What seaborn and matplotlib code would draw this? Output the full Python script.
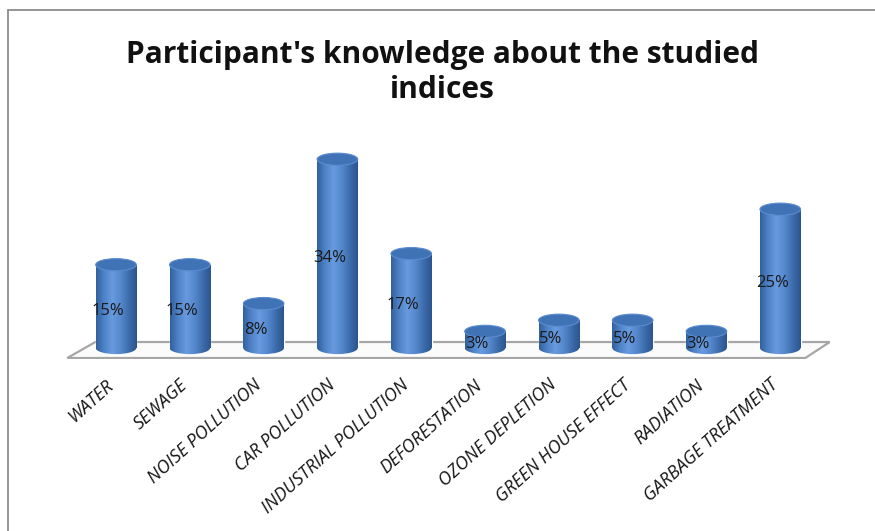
import numpy as np
import matplotlib
matplotlib.use("Agg")
import matplotlib.pyplot as plt
import matplotlib.transforms as mtransforms
import seaborn as sns
from matplotlib.patches import Ellipse, Polygon
from matplotlib.colors import LinearSegmentedColormap
from matplotlib.lines import Line2D

# chart data
categories = ["WATER", "SEWAGE", "NOISE POLLUTION", "CAR POLLUTION",
              "INDUSTRIAL POLLUTION", "DEFORESTATION", "OZONE DEPLETION",
              "GREEN HOUSE EFFECT", "RADIATION", "GARBAGE TREATMENT"]
values = [15, 15, 8, 34, 17, 3, 5, 5, 3, 25]
labels = ["15%", "15%", "8%", "34%", "17%", "3%", "5%", "5%", "3%", "25%"]

sns.set_style("white")
plt.rcParams['font.family'] = ['Open Sans', 'DejaVu Sans']

fig = plt.figure(figsize=(8.75, 5.31), dpi=100)
ax = fig.add_axes([0.0693, 0.3237, 0.8857, 0.3973])

sns.barplot(x=categories, y=values, color="#4a7ec2", width=0.55,
            saturation=1, ax=ax, zorder=3)

ax.set_xlim(-0.75, 9.75)
ax.set_ylim(-2, 36)

# floor of the 3d plot
floor = Polygon([(-0.66, -1.8), (-0.28, 1.08), (9.67, 1.08), (9.34, -1.8)],
                closed=True, facecolor="#fbfbfb", edgecolor="#a6a6a6",
                lw=1.6, zorder=1)
ax.add_patch(floor)

# cylinder shading
cyl = LinearSegmentedColormap.from_list(
    "cyl", ["#30609c", "#4f83c8", "#679ade", "#5588cd", "#3d6dad", "#2b548d"])
grad = np.linspace(0, 1, 256).reshape(1, -1)
ell_h = 2.2

for bar, lab in zip(ax.patches[:len(values)], labels):
    x0 = bar.get_x()
    w = bar.get_width()
    h = bar.get_height()
    xc = x0 + w / 2
    im = ax.imshow(grad, extent=[x0, x0 + w, -ell_h, h], aspect='auto',
                   cmap=cyl, zorder=3.5)
    im.set_clip_path(bar)
    bottom = Ellipse((xc, 0), w, ell_h, transform=ax.transData)
    im2 = ax.imshow(grad, extent=[x0, x0 + w, -ell_h, h], aspect='auto',
                    cmap=cyl, zorder=3.4)
    im2.set_clip_path(bottom)
    top = Ellipse((xc, h), w, ell_h, facecolor="#4073b6",
                  edgecolor="#5b8bd0", lw=0.8, zorder=4)
    ax.add_patch(top)
    ax.text(xc - 0.11, h / 2 - 0.8, lab, ha='center', va='center',
            fontsize=12, color="#1a1a1a", zorder=5)

ax.set_xlim(-0.75, 9.75)
ax.set_ylim(-2, 36)
ax.set_yticks([])
ax.set_xlabel("")
ax.set_ylabel("")
sns.despine(ax=ax, left=True, bottom=True)
ax.tick_params(axis='x', length=0, pad=17)
shift = mtransforms.ScaledTranslation(-5 / 100, 0, fig.dpi_scale_trans)
for t in ax.get_xticklabels():
    t.set_rotation(42)
    t.set_ha('right')
    t.set_va('center')
    t.set_rotation_mode('anchor')
    t.set_fontsize(13)
    t.set_fontstyle('italic')
    t.set_color("#161616")
    t.set_transform(t.get_transform() + shift)

fig.text(0.506, 0.863, "Participant's knowledge about the studied\nindices",
         ha='center', va='center', fontsize=21.5, fontweight='bold',
         linespacing=1.2, color="#111111")

# outer chart frame
fig.add_artist(Line2D([0.0093, 0.0093], [0, 0.9815], color="#8c8c8c", lw=1.3))
fig.add_artist(Line2D([0.0093, 1], [0.9815, 0.9815], color="#8c8c8c", lw=1.3))

fig.savefig("out.png", dpi=100)
